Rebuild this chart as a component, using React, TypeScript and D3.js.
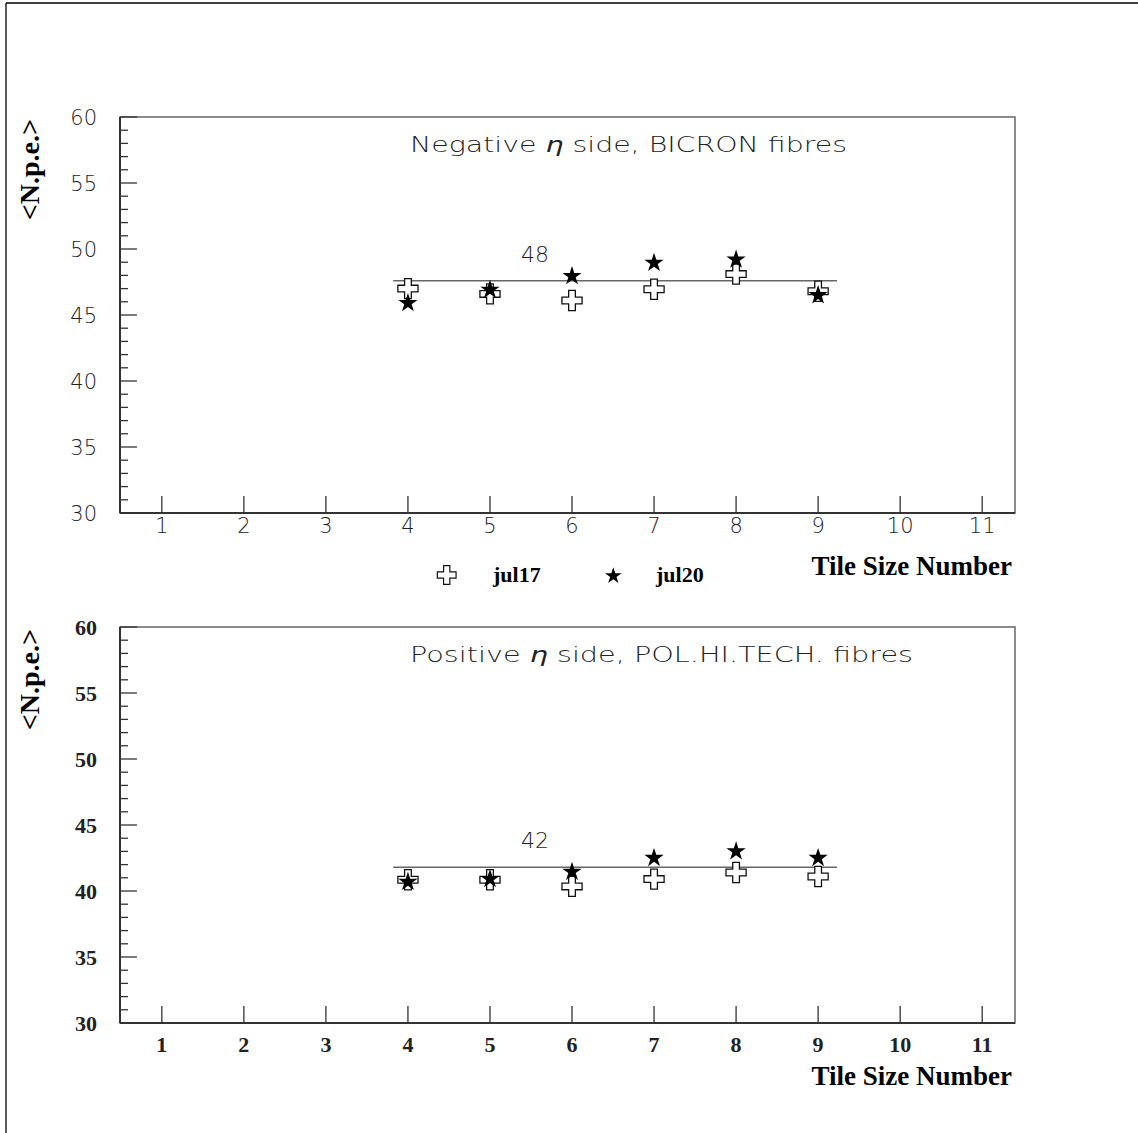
import { scaleLinear, symbol, symbolCross, symbolStar, range } from 'd3'

const width = 1138
const height = 1133

// tile size numbers measured
const tileSizes = [4, 5, 6, 7, 8, 9]
const xTicks = [1, 2, 3, 4, 5, 6, 7, 8, 9, 10, 11]
const yMajor = [30, 35, 40, 45, 50, 55, 60]
const yMinor = range(30, 61, 1)

// negative eta side, BICRON fibres
const negJul17 = [47.0, 46.6, 46.1, 46.95, 48.1, 46.8]
const negJul20 = [45.9, 46.9, 47.95, 48.95, 49.2, 46.5]
const negFit = 47.6
const negFitLabel = '48'

// positive eta side, POL.HI.TECH. fibres
const posJul17 = [40.85, 40.85, 40.35, 40.9, 41.4, 41.1]
const posJul20 = [40.7, 40.9, 41.45, 42.5, 43.0, 42.5]
const posFit = 41.8
const posFitLabel = '42'

const fitRange = [3.82, 9.23]
const legendNames = ['jul17', 'jul20']

const left = 120
const right = 1015
const panelHeight = 396

const xScale = scaleLinear().domain([0.49, 11.4]).range([left, right])

const crossPath = symbol(symbolCross, 225)()
const starPath = symbol(symbolStar, 115)()
const crossSmall = symbol(symbolCross, 195)()
const starSmall = symbol(symbolStar, 85)()

const thin = "'DejaVu Sans', sans-serif"
const serif = "'Liberation Serif', 'Times New Roman', serif"

const Panel = ({ top, jul17, jul20, fit, fitLabel, title, titleLength, bold, legend }) => {
  const yScale = scaleLinear().domain([30, 60]).range([top + panelHeight, top])
  const bottom = top + panelHeight
  const labelFont = bold
    ? { fontFamily: serif, fontWeight: 700, fontSize: 22 }
    : { fontFamily: thin, fontWeight: 200, fontSize: 21 }
  const fitY = yScale(fit)

  return (
    <g>
      {/* frame */}
      <rect x={left} y={top} width={right - left} height={panelHeight} fill="none" stroke="#666" strokeWidth={1.5} />
      <line x1={left} x2={left} y1={top} y2={bottom} stroke="#333" strokeWidth={2} />
      <line x1={left} x2={right} y1={bottom} y2={bottom} stroke="#333" strokeWidth={2} />

      {/* y ticks */}
      {yMinor.map((v) => (
        <line
          key={'yt' + v}
          x1={left}
          x2={left + (v % 5 === 0 ? 17 : 8)}
          y1={yScale(v)}
          y2={yScale(v)}
          stroke="#333"
          strokeWidth={1.3}
        />
      ))}
      {yMajor.map((v) => (
        <text key={'yl' + v} x={97} y={yScale(v)} dy="0.36em" textAnchor="end" fill="#222" {...labelFont}>
          {v}
        </text>
      ))}

      {/* x ticks */}
      {xTicks.map((v) => (
        <line key={'xt' + v} x1={xScale(v)} x2={xScale(v)} y1={bottom} y2={bottom - 17} stroke="#333" strokeWidth={1.3} />
      ))}
      {xTicks.map((v) => (
        <text key={'xl' + v} x={xScale(v)} y={bottom + (bold ? 29 : 20)} textAnchor="middle" fill="#222" {...labelFont}>
          {v}
        </text>
      ))}

      {/* axis titles */}
      <text
        transform={`translate(38.5, ${top + 2}) rotate(-90)`}
        textAnchor="end"
        fontFamily={serif}
        fontWeight={700}
        fontSize={28}
      >
        {'<N.p.e.>'}
      </text>
      <text x={1012} y={bottom + 62} textAnchor="end" fontFamily={serif} fontWeight={700} fontSize={27}>
        Tile Size Number
      </text>

      {/* panel title */}
      <text
        x={410}
        y={top + 35}
        fontFamily={thin}
        fontWeight={200}
        fontSize={21}
        fill="#222"
        textLength={titleLength}
        lengthAdjust="spacingAndGlyphs"
      >
        {title[0]}
        <tspan fontStyle="italic">η</tspan>
        {title[1]}
      </text>

      {/* fit line */}
      <line x1={xScale(fitRange[0])} x2={xScale(fitRange[1])} y1={fitY} y2={fitY} stroke="#666" strokeWidth={1.5} />
      <text x={xScale(5.55)} y={fitY - 19} textAnchor="middle" fontFamily={thin} fontWeight={200} fontSize={22} fill="#222">
        {fitLabel}
      </text>

      {/* markers */}
      {tileSizes.map((t, i) => (
        <path
          key={'c' + t}
          d={crossPath}
          transform={`translate(${xScale(t)},${yScale(jul17[i])})`}
          fill="white"
          stroke="#111"
          strokeWidth={1.3}
        />
      ))}
      {tileSizes.map((t, i) => (
        <path key={'s' + t} d={starPath} transform={`translate(${xScale(t)},${yScale(jul20[i])})`} fill="#000" />
      ))}

      {legend && (
        <g>
          <path d={crossSmall} transform={`translate(446.7,${bottom + 62})`} fill="white" stroke="#111" strokeWidth={1.2} />
          <text x={493} y={bottom + 69} fontFamily={serif} fontWeight={700} fontSize={22}>
            {legendNames[0]}
          </text>
          <path d={starSmall} transform={`translate(613.3,${bottom + 63})`} fill="#000" />
          <text x={656} y={bottom + 69} fontFamily={serif} fontWeight={700} fontSize={22}>
            {legendNames[1]}
          </text>
        </g>
      )}
    </g>
  )
}

const App = () => {
  return (
    <svg
      width={width}
      height={height}
      style={{ position: 'absolute', left: 0, top: 0, background: 'white' }}
    >
      <rect width={width} height={height} fill="white" />
      {/* page border */}
      <line x1={6} x2={6} y1={3} y2={height} stroke="#000" strokeWidth={1.3} />
      <line x1={6} x2={width} y1={3} y2={3} stroke="#000" strokeWidth={1.3} />

      <Panel
        top={117}
        jul17={negJul17}
        jul20={negJul20}
        fit={negFit}
        fitLabel={negFitLabel}
        title={['Negative ', ' side, BICRON fibres']}
        titleLength={437}
        bold={false}
        legend={true}
      />
      <Panel
        top={627}
        jul17={posJul17}
        jul20={posJul20}
        fit={posFit}
        fitLabel={posFitLabel}
        title={['Positive ', ' side, POL.HI.TECH. fibres']}
        titleLength={503}
        bold={true}
        legend={false}
      />
    </svg>
  )
}

export default App
